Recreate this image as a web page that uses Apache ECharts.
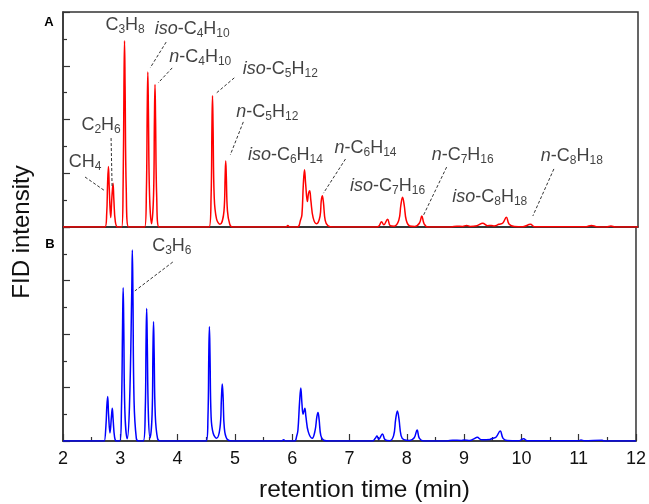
<!DOCTYPE html>
<html><head><meta charset="utf-8">
<script src="https://cdn.jsdelivr.net/npm/echarts@6/dist/echarts.min.js"></script>
<style>html,body{margin:0;padding:0;background:#fff}#c{width:649px;height:504px}</style>
</head><body><div id="c"></div>
<script>
// ---- data ----
const redTrace = [[2,0],[2.6,0],[2.73,0],[2.76,0.5],[2.775,1.6],[2.79,2.25],[2.805,1.4],[2.83,0.35],[2.85,1.1],[2.87,1.63],[2.885,1.0],[2.91,0.2],[2.95,0],
[3.02,0],[3.045,1.5],[3.06,5.2],[3.07,6.93],[3.08,5.2],[3.1,1.4],[3.14,0],
[3.42,0],[3.45,1.3],[3.465,4.4],[3.475,5.77],[3.485,4.4],[3.505,1.2],[3.54,0.12],[3.575,1.2],[3.59,4.0],[3.60,5.3],[3.61,4.0],[3.63,1.1],[3.67,0],
[4.54,0],[4.575,1.1],[4.59,3.7],[4.60,4.88],[4.61,3.7],[4.63,1.1],[4.67,0.3],[4.73,0.1],[4.8,0.6],[4.82,1.9],[4.83,2.46],[4.84,1.9],[4.86,0.6],[4.9,0.1],[4.95,0],
[5.88,0],[5.91,0.06],[5.94,0],
[6.08,0],[6.13,0.25],[6.155,0.45],[6.18,1.6],[6.20,2.13],[6.22,1.6],[6.25,0.95],[6.27,1.25],[6.29,1.35],[6.31,1.0],[6.35,0.35],[6.41,0.12],[6.47,0.4],[6.49,0.95],[6.51,1.16],[6.53,0.9],[6.56,0.25],[6.61,0.04],[6.7,0],
[7.45,0],[7.5,0.05],[7.54,0.2],[7.58,0.08],[7.645,0.29],[7.69,0.05],[7.76,0.03],[7.84,0.25],[7.875,0.8],[7.905,1.11],[7.935,0.8],[7.97,0.25],[8.03,0.04],[8.12,0.02],[8.2,0.15],[8.24,0.41],[8.28,0.12],[8.35,0],
[8.75,0],[8.85,0.03],[8.95,0.02],[9.02,0.06],[9.08,0.02],[9.2,0.05],[9.3,0.14],[9.38,0.05],[9.45,0.06],[9.5,0.04],[9.58,0.1],[9.65,0.15],[9.71,0.36],[9.76,0.1],[9.85,0.02],[10.0,0.01],[10.13,0.1],[10.2,0.01],[11.1,0.01],[11.19,0.06],[11.28,0.01],[11.45,0],[11.53,0.04],[11.6,0],[12,0]];

const blueTrace = [[2,0],[2.7,0],[2.72,0],[2.75,0.6],[2.765,1.3],[2.78,1.66],[2.795,1.0],[2.82,0.3],[2.845,0.9],[2.86,1.22],[2.875,0.8],[2.9,0.15],[2.93,0],
[2.99,0],[3.02,1.2],[3.04,4.4],[3.05,5.73],[3.06,4.4],[3.08,1.1],[3.12,0.08],[3.16,1.3],[3.2,5.6],[3.21,7.14],[3.22,5.6],[3.24,1.5],[3.28,0.1],[3.32,0],
[3.4,0],[3.435,1.1],[3.45,3.8],[3.46,4.95],[3.47,3.8],[3.49,1.0],[3.52,0.12],[3.555,1.0],[3.57,3.4],[3.58,4.46],[3.59,3.4],[3.61,1.0],[3.65,0.1],[3.7,0],
[4.5,0],[4.53,0.9],[4.545,3.3],[4.555,4.27],[4.565,3.3],[4.585,0.9],[4.62,0.3],[4.68,0.1],[4.74,0.5],[4.765,1.6],[4.78,2.13],[4.795,1.6],[4.815,0.5],[4.86,0.08],[4.95,0],
[5.82,0],[5.85,0.05],[5.88,0],
[6.04,0],[6.08,0.2],[6.1,0.4],[6.13,1.5],[6.15,1.98],[6.17,1.4],[6.19,1.0],[6.22,1.22],[6.24,0.9],[6.28,0.35],[6.35,0.1],[6.4,0.4],[6.43,0.9],[6.45,1.07],[6.47,0.8],[6.5,0.2],[6.55,0.03],[6.65,0],
[7.4,0],[7.45,0.1],[7.48,0.19],[7.51,0.06],[7.575,0.26],[7.62,0.05],[7.7,0.01],[7.77,0.2],[7.805,0.8],[7.836,1.12],[7.865,0.8],[7.9,0.2],[7.95,0.05],[8.05,0.02],[8.13,0.12],[8.18,0.41],[8.22,0.1],[8.3,0],
[8.7,0],[8.8,0.03],[8.95,0.02],[9.0,0.04],[9.1,0.02],[9.17,0.08],[9.23,0.14],[9.3,0.05],[9.45,0.06],[9.5,0.1],[9.56,0.15],[9.63,0.37],[9.68,0.1],[9.75,0.02],[9.95,0.01],[10.04,0.08],[10.1,0.01],[11.0,0.01],[11.04,0.04],[11.1,0.01],[11.41,0.03],[11.45,0],[12,0]];

// annotation names and anchor points (data coords)
const labelNamesA = ['C3H8','iso-C4H10','n-C4H10','iso-C5H12','n-C5H12','iso-C6H14','C2H6','CH4','n-C6H14','iso-C7H16','n-C7H16','iso-C8H18','n-C8H18'];
const labelPosA = [[3.080,7.52],[4.247,7.37],[4.387,6.33],[5.780,5.88],[5.554,4.28],[5.868,2.68],[2.662,3.80],[2.383,2.42],[7.261,2.94],[7.645,1.53],[8.951,2.68],[9.422,1.12],[10.85,2.64]];
const labelNamesB = ['C3H6'];
const labelPosB = [[3.899,7.29]];
// dashed leader lines (data coords)
const leadersA = [[[2.383,1.86],[2.732,1.34]],[[2.836,3.31],[2.854,1.49]],[[3.794,6.88],[3.516,5.92]],[[3.899,5.92],[3.655,5.36]],[[4.979,5.55],[4.648,4.95]],[[5.136,3.91],[4.909,2.68]],[[6.913,2.53],[6.530,1.26]],[[8.672,2.23],[8.272,0.45]],[[10.537,2.16],[10.171,0.41]]];
const leadersB = [[[3.916,6.69],[3.254,5.61]]];

// ---- chart ----
const FONT = "'Liberation Sans', Arial, sans-serif";
const TXT = '#111';
function richName(name){
  let out = '', rest = name;
  const d = name.indexOf('-');
  if (d > 0) { out += '{i|' + name.slice(0, d) + '}'; rest = name.slice(d); }
  out += rest.replace(/(\d+)|([^\d]+)/g, (m, dg, tx) => dg ? '{s|' + dg + '}' : '{m|' + tx + '}');
  return out;
}
const rich = {
  m: {fontSize: 18, fontFamily: FONT, color: TXT, lineHeight: 18, verticalAlign: 'middle', textBorderWidth: 0},
  i: {fontSize: 18, fontFamily: FONT, color: TXT, fontStyle: 'italic', lineHeight: 18, verticalAlign: 'middle', textBorderWidth: 0},
  s: {fontSize: 12, fontFamily: FONT, color: TXT, lineHeight: 7, verticalAlign: 'top', padding: [8, 0, 0, 0], textBorderWidth: 0}
};
function labelSeries(names, pos, leaders, idx){
  return {
    type: 'scatter', xAxisIndex: idx, yAxisIndex: idx, symbolSize: 0, silent: true, z: 5,
    data: pos.map((p, k) => ({value: p, name: names[k]})),
    label: {show: true, position: 'inside', color: TXT, textBorderWidth: 0, textBorderColor: 'transparent',
      formatter: p => richName(p.name), rich: rich},
    markLine: {
      silent: true, symbol: 'none', label: {show: false},
      lineStyle: {type: [3, 2], color: '#333', width: 1},
      data: leaders.map(l => [{coord: l[0]}, {coord: l[1]}])
    }
  };
}
const axisColor = '#333';
function yAx(idx){
  return {type: 'value', gridIndex: idx, min: 0, max: 8, interval: 2,
    axisLine: {show: true, lineStyle: {color: axisColor, width: 1.5}},
    axisTick: {show: true, inside: true, length: 7, lineStyle: {color: axisColor, width: 1.2}},
    minorTick: {show: true, splitNumber: 2, length: 4, lineStyle: {color: axisColor, width: 1.2}},
    axisLabel: {show: false}, splitLine: {show: false}};
}
const chart = echarts.init(document.getElementById('c'), null, {renderer: 'canvas'});
chart.setOption({
  animation: false,
  backgroundColor: '#fff',
  grid: [
    {left: 63, right: 11, top: 12, height: 215, show: true, borderColor: axisColor, borderWidth: 1.5},
    {left: 63, right: 11, top: 227, height: 214, show: true, borderColor: axisColor, borderWidth: 1.5}
  ],
  xAxis: [
    {type: 'value', gridIndex: 0, min: 2, max: 12, interval: 1,
      axisLine: {show: true, onZero: false, lineStyle: {color: axisColor, width: 1.5}},
      axisTick: {show: false}, axisLabel: {show: false}, splitLine: {show: false}},
    {type: 'value', gridIndex: 1, min: 2, max: 12, interval: 1,
      axisLine: {show: true, onZero: false, lineStyle: {color: axisColor, width: 1.5}},
      axisTick: {show: true, inside: true, length: 7, lineStyle: {color: axisColor, width: 1.2}},
      minorTick: {show: true, splitNumber: 2, length: 4, lineStyle: {color: axisColor, width: 1.2}},
      axisLabel: {show: true, fontSize: 18, fontFamily: FONT, color: TXT, margin: 9},
      splitLine: {show: false},
      name: 'retention time (min)', nameLocation: 'middle', nameGap: 37,
      nameTextStyle: {fontSize: 24.5, fontFamily: FONT, color: TXT, padding: [0, 0, 0, 30]}}
  ],
  yAxis: [yAx(0), yAx(1)],
  graphic: [
    {type: 'text', x: 22, y: 232, rotation: Math.PI / 2,
      style: {text: 'FID intensity', fontSize: 24, fontFamily: FONT, fill: TXT, textAlign: 'center', textVerticalAlign: 'middle'}},
    {type: 'text', x: 49, y: 22,
      style: {text: 'A', fontSize: 13, fontWeight: 'bold', fontFamily: FONT, fill: '#000', textAlign: 'center', textVerticalAlign: 'middle'}},
    {type: 'text', x: 50, y: 244,
      style: {text: 'B', fontSize: 13, fontWeight: 'bold', fontFamily: FONT, fill: '#000', textAlign: 'center', textVerticalAlign: 'middle'}}
  ],
  series: [
    {type: 'line', xAxisIndex: 0, yAxisIndex: 0, data: redTrace, showSymbol: false, smooth: 0.4,
      lineStyle: {color: '#ff0000', width: 1.5}, silent: true, z: 3},
    {type: 'line', xAxisIndex: 1, yAxisIndex: 1, data: blueTrace, showSymbol: false, smooth: 0.4,
      lineStyle: {color: '#0000ff', width: 1.5}, silent: true, z: 3},
    labelSeries(labelNamesA, labelPosA, leadersA, 0),
    labelSeries(labelNamesB, labelPosB, leadersB, 1)
  ]
});
</script>
</body></html>
